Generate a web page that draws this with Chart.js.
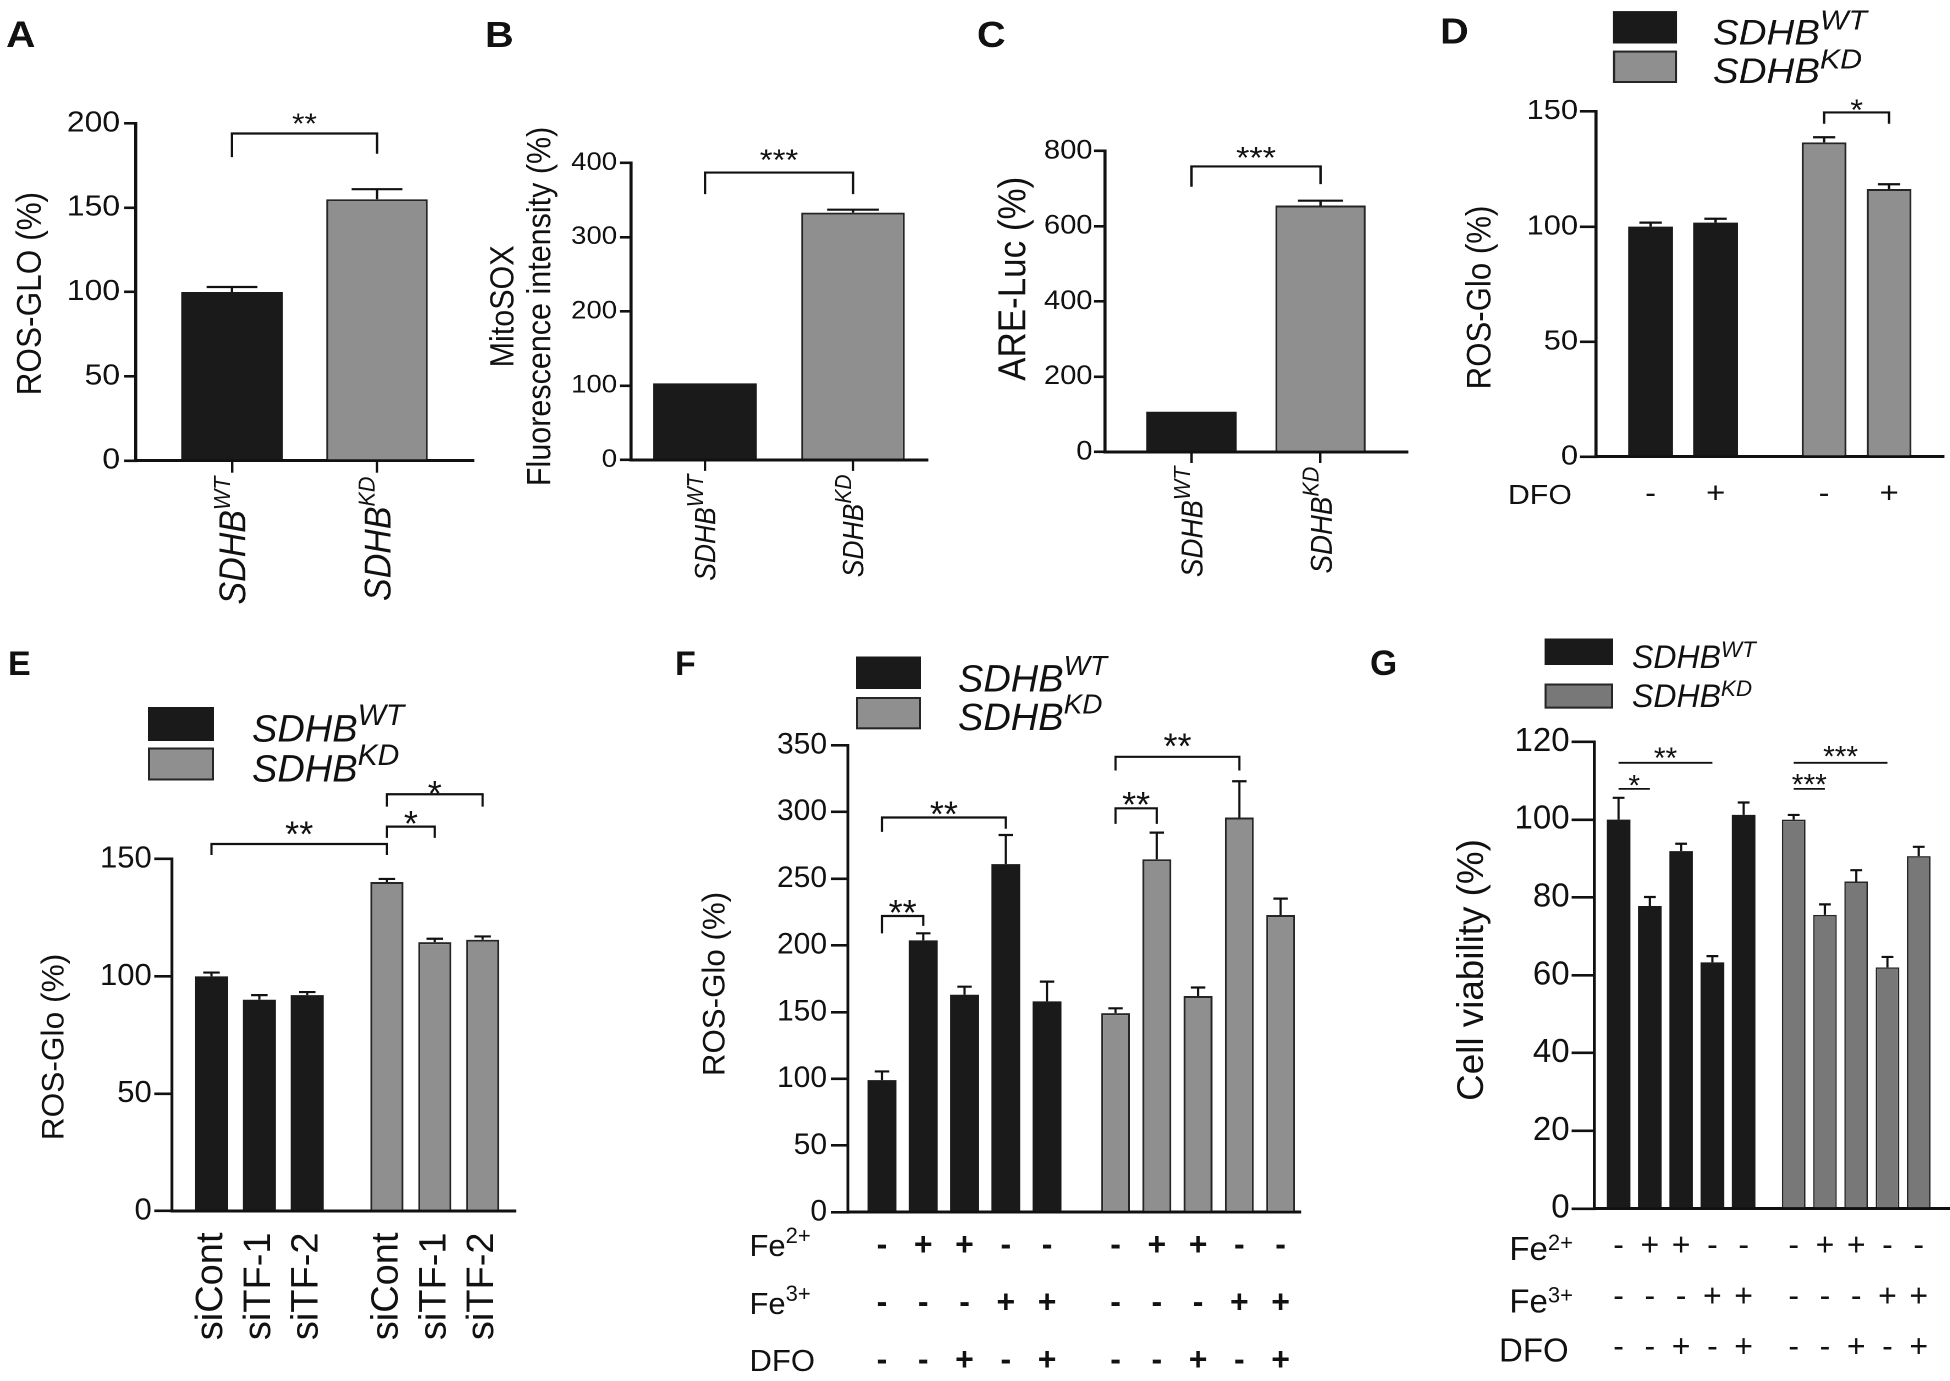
<!DOCTYPE html>
<html>
<head>
<meta charset="utf-8">
<script src="https://cdn.jsdelivr.net/npm/chart.js@4.4.1/dist/chart.umd.min.js"></script>
<style>
  html, body { margin: 0; padding: 0; background: #fff; overflow: hidden; }
  #figure { position: absolute; left: 0; top: 0; width: 1950px; height: 1381px; }
  /* every panel canvas is stretched sideways a little, as in the source figure */
  #figure canvas { position: absolute; transform-origin: 0 0; }
</style>
</head>
<body>
<div id="figure"></div>
<script>
// ---- data ----
const genotypeNames = ['SDHB', 'SDHB'];
const genotypeSups = ['WT', 'KD'];

// A: ROS-GLO
const aTicks = [0, 50, 100, 150, 200];
const aValues = [100, 155];
const aErrors = [3, 6];
// B: MitoSOX
const bTicks = [0, 100, 200, 300, 400];
const bValues = [103, 333];
const bErrors = [0, 4];
// C: ARE-Luc
const cTicks = [0, 200, 400, 600, 800];
const cValues = [107, 655];
const cErrors = [0, 13];
// D: ROS-Glo +/- DFO
const dTicks = [0, 50, 100, 150];
const dDFO = ['-', '+'];
const dWT = [100, 101.7];
const dWTErr = [1.7, 1.7];
const dKD = [136.6, 116.3];
const dKDErr = [2.2, 2.1];
// E: siRNA
const eTicks = [0, 50, 100, 150];
const eLabels = ['siCont', 'siTF-1', 'siTF-2'];
const eWT = [100, 90, 92];
const eWTErr = [1.6, 2, 1.3];
const eKD = [140.2, 114.6, 115.6];
const eKDErr = [1.3, 1.4, 1.4];
// F, G treatments
const fe2 = ['-', '+', '+', '-', '-'];
const fe3 = ['-', '-', '-', '+', '+'];
const dfo = ['-', '-', '+', '-', '+'];
const fTicks = [0, 50, 100, 150, 200, 250, 300, 350];
const fWT = [99, 203.7, 163, 260.9, 158];
const fWTErr = [6.5, 5.3, 6, 21.8, 14.8];
const fKD = [149.2, 264.5, 162, 295.8, 222.7];
const fKDErr = [3.6, 20, 6.4, 27.2, 12.3];
const gTicks = [0, 20, 40, 60, 80, 100, 120];
const gWT = [100, 77.8, 91.9, 63.3, 101.2];
const gWTErr = [5.6, 2.3, 1.9, 1.6, 3.2];
const gKD = [100, 75.5, 84.1, 62, 90.6];
const gKDErr = [1.2, 2.7, 2.9, 2.7, 2.4];

// significance brackets: bar indexes run across both groups, heights in axis units
const aSig = [{from: 0, to: 1, y: 194, legs: [180, 182], text: '**', gap: 17}];
const bSig = [{from: 0, to: 1, y: 387, legs: [358, 358], text: '***', gap: 19.8}];
const cSig = [{from: 0, to: 1, y: 759, legs: [705, 712], text: '***', gap: 16.6}];
const dSig = [{from: 2, to: 3, y: 149.6, legs: [144.7, 144.7], text: '*', gap: 9.9}];
const eSig = [
  {from: 0, to: 3, y: 156.4, legs: [151.7, 151.7], text: '**', gap: 18.3},
  {from: 3, to: 4, y: 163.8, legs: [159, 159], text: '*', gap: 11.7},
  {from: 3, to: 5, y: 177.6, legs: [172.3, 172.3], text: '*', gap: 9}
];
const fSig = [
  {from: 0, to: 1, y: 222, legs: [209, 214.6], text: '**', gap: 11.8},
  {from: 0, to: 3, y: 295.8, legs: [285, 287.4], text: '**', gap: 11.7},
  {from: 5, to: 6, y: 302.7, legs: [291, 291], text: '**', gap: 12.3},
  {from: 5, to: 8, y: 341.3, legs: [331, 331], text: '**', gap: 19.3}
];
const gSig = [
  {from: 0, to: 1, y: 107.9, text: '*', gap: 10.7},
  {from: 0, to: 3, y: 114.6, text: '**', gap: 12},
  {from: 5, to: 6, y: 107.9, text: '***', gap: 12},
  {from: 5, to: 8, y: 114.6, text: '***', gap: 13.7}
];

// ---- styles ----
const FONT = "'Liberation Sans', Arial, Helvetica, sans-serif";
const INK = '#111111';
const BLACK_BAR = '#1a1a1a';
const GREY_BAR = '#8f8f8f';
const GREY_BAR_G = '#787878';

Chart.defaults.font.family = FONT;
Chart.defaults.color = INK;

function twoGroups(wt, wtErr, kd, kdErr, grey, edgeWidth) {
  return [
    {values: wt, errors: wtErr, fill: BLACK_BAR, edge: BLACK_BAR, edgeWidth: 0},
    {values: kd, errors: kdErr, fill: grey || GREY_BAR, edge: '#262626', edgeWidth: edgeWidth || 2}
  ];
}

const panels = [
  {
    stretch: 1.1, letter: ['A', 6, 47, 37], box: [0, 0, 486, 640], plot: [136, 123.4, 473, 460.7],
    xRange: [-0.662, 1.662], groupGap: 1, barRatio: 0.7,
    series: twoGroups([aValues[0]], [aErrors[0]], [aValues[1]], [aErrors[1]]),
    yTicks: aTicks, tickFont: 29, tickLen: 12, tickPad: 4,
    title: {lines: ['ROS-GLO (%)'], x: [31], y: 293.6, size: 31.6},
    xMarks: 12, catLabels: {top: 476.5, size: 34, sup: 21.6},
    sig: aSig, sigSize: 29, sigWidth: 2.2
  },
  {
    stretch: 1.1, letter: ['B', 485, 47, 36], box: [470, 0, 950, 640], plot: [631, 162.9, 927, 459.9],
    xRange: [-0.5, 1.5], groupGap: 1, barRatio: 0.7,
    series: twoGroups([bValues[0]], [bErrors[0]], [bValues[1]], [bErrors[1]]),
    yTicks: bTicks, tickFont: 25, tickLen: 11, tickPad: 3,
    title: {lines: ['MitoSOX', 'Fluorescence intensity (%)'], x: [504, 541], y: 306.4, size: 30.5},
    xMarks: 11, catLabels: {top: 474.5, size: 26.5, sup: 21},
    sig: bSig, sigSize: 30, sigWidth: 2.2
  },
  {
    stretch: 1.1, letter: ['C', 977, 47, 36], box: [950, 0, 1430, 640], plot: [1105, 151, 1407, 452],
    xRange: [-0.67, 1.67], groupGap: 1, barRatio: 0.7,
    series: twoGroups([cValues[0]], [cErrors[0]], [cValues[1]], [cErrors[1]]),
    yTicks: cTicks, tickFont: 26.5, tickLen: 11, tickPad: 1.5,
    title: {lines: ['ARE-Luc (%)'], x: [1015], y: 278.8, size: 35},
    xMarks: 11, catLabels: {top: 466.6, size: 27.7, sup: 21.6},
    sig: cSig, sigSize: 31, sigWidth: 2.2
  },
  {
    stretch: 1.1, letter: ['D', 1440, 43.5, 36], box: [1430, 0, 1950, 640], plot: [1596, 111.5, 1943, 456.7],
    xRange: [-0.84, 4.5], groupGap: 2.67, barRatio: 0.69,
    series: twoGroups(dWT, dWTErr, dKD, dKDErr),
    yTicks: dTicks, tickFont: 28, tickLen: 16, tickPad: 2,
    title: {lines: ['ROS-Glo (%)'], x: [1481], y: 297.5, size: 31.2},
    legend: {x0: 1613, x1: 1677, rects: [[11.1, 43.5], [50.6, 83]], tx: 1713, base: [44.3, 83], size: 35, sup: 27.5, rise: 0.42},
    xLabels: i => dDFO[i % 2], xFont: 30, xWeight: 'normal', xLine: 1.2, xPad: 19.6,
    rows: [{main: 'DFO', x: 1508, y: 504.2, size: 27.5}],
    sig: dSig, sigSize: 30, sigWidth: 2.2
  },
  {
    stretch: 1, letter: ['E', 8, 675, 34], box: [0, 600, 600, 1381], plot: [172, 859, 515, 1211],
    xRange: [-0.825, 6.34], groupGap: 3.664, barRatio: 0.69,
    series: twoGroups(eWT, eWTErr, eKD, eKDErr),
    yTicks: eTicks, tickFont: 31, tickLen: 17.7, tickPad: 2.6,
    title: {lines: ['ROS-Glo (%)'], x: [55], y: 1047, size: 31.7},
    legend: {x0: 148, x1: 214, rects: [[707, 741], [747.5, 780.5]], tx: 252, base: [741.7, 781.7], size: 38, sup: 30, rise: 0.44},
    xLabels: i => eLabels[i % 3], xFont: 38, xWeight: 'normal', xLine: 1.2, xPad: 21.5, xRot: 90,
    sig: eSig, sigSize: 36, sigWidth: 2.2
  },
  {
    stretch: 1, letter: ['F', 675, 675, 34], box: [650, 600, 1320, 1381], plot: [848, 745.2, 1300, 1212.2],
    xRange: [-0.824, 10.13], groupGap: 5.66, barRatio: 0.7,
    series: twoGroups(fWT, fWTErr, fKD, fKDErr),
    yTicks: fTicks, tickFont: 30, tickLen: 17, tickPad: 4,
    title: {lines: ['ROS-Glo (%)'], x: [716], y: 984, size: 31.3},
    legend: {x0: 856, x1: 921, rects: [[656.5, 689], [697, 729.3]], tx: 958, base: [691.7, 730], size: 38, sup: 28, rise: 0.44},
    xLabels: i => [fe2[i % 5], fe3[i % 5], dfo[i % 5]], xFont: 32, xWeight: 'bold', xLine: 1.8, xPad: 5,
    rows: [
      {main: 'Fe', sup: '2+', x: 749.5, y: 1256, size: 31, supSize: 22, rise: 13},
      {main: 'Fe', sup: '3+', x: 749.5, y: 1314, size: 31, supSize: 22, rise: 13},
      {main: 'DFO', x: 749.5, y: 1371, size: 31}
    ],
    sig: fSig, sigSize: 36, sigWidth: 2.2
  },
  {
    stretch: 1, letter: ['G', 1370, 675, 35], box: [1320, 600, 1950, 1381], plot: [1594.4, 741.8, 1950, 1208.6],
    xRange: [-0.774, 10.6], groupGap: 5.6, barRatio: 0.755,
    series: twoGroups(gWT, gWTErr, gKD, gKDErr, GREY_BAR_G, 1.5),
    yTicks: gTicks, tickFont: 33, tickLen: 22.8, tickPad: 2,
    title: {lines: ['Cell viability (%)'], x: [1473], y: 970, size: 36.8},
    legend: {x0: 1544.6, x1: 1613, rects: [[638.5, 665], [683.5, 708.6]], tx: 1632, base: [668, 707], size: 32, sup: 22.5, rise: 0.35, grey: GREY_BAR_G},
    xLabels: i => [fe2[i % 5], fe3[i % 5], dfo[i % 5]], xFont: 32, xWeight: 'normal', xLine: 1.5875, xPad: 12.7,
    rows: [
      {main: 'Fe', sup: '2+', x: 1509.4, y: 1260, size: 33, supSize: 22, rise: 10},
      {main: 'Fe', sup: '3+', x: 1509.4, y: 1312.7, size: 33, supSize: 22, rise: 10},
      {main: 'DFO', x: 1499, y: 1361.7, size: 33}
    ],
    sig: gSig, sigSize: 30, sigWidth: 1.8
  }
];

const fig = document.getElementById('figure');

// italic "SDHB" followed by its raised superscript
function drawGenotype(ctx, x, y, g, size, supSize, rise) {
  ctx.font = `italic ${size}px ${FONT}`;
  ctx.fillText(genotypeNames[g], x, y);
  const w = ctx.measureText(genotypeNames[g]).width;
  ctx.font = `italic ${supSize}px ${FONT}`;
  ctx.fillText(genotypeSups[g], x + w, y - rise);
}

function drawExtras(chart, p, positions) {
  const ctx = chart.ctx;
  const S = p.stretch;
  const xs = chart.scales.x, ys = chart.scales.y;
  const X = x => (x - p.box[0]) / S;
  const Y = y => y - p.box[1];
  ctx.save();
  ctx.fillStyle = INK;
  ctx.strokeStyle = INK;
  ctx.lineCap = 'butt';

  // error bars (upper only)
  ctx.lineWidth = 2.2;
  chart.data.datasets.forEach((ds, di) => {
    chart.getDatasetMeta(di).data.forEach((bar, i) => {
      const e = ds.errors[i];
      if (!e) return;
      const top = ys.getPixelForValue(ds.data[i].y + e);
      const half = bar.width * 0.25;
      ctx.beginPath();
      ctx.moveTo(bar.x, bar.y);
      ctx.lineTo(bar.x, top);
      ctx.moveTo(bar.x - half, top);
      ctx.lineTo(bar.x + half, top);
      ctx.stroke();
    });
  });

  // significance brackets
  ctx.lineWidth = p.sigWidth;
  p.sig.forEach(b => {
    const x1 = xs.getPixelForValue(positions[b.from]);
    const x2 = xs.getPixelForValue(positions[b.to]);
    const yl = ys.getPixelForValue(b.y);
    ctx.beginPath();
    if (b.legs) {
      ctx.moveTo(x1, ys.getPixelForValue(b.legs[0]));
      ctx.lineTo(x1, yl);
      ctx.lineTo(x2, yl);
      ctx.lineTo(x2, ys.getPixelForValue(b.legs[1]));
    } else {
      ctx.moveTo(x1, yl);
      ctx.lineTo(x2, yl);
    }
    ctx.stroke();
    ctx.font = `${p.sigSize}px ${FONT}`;
    ctx.textAlign = 'center';
    ctx.textBaseline = 'alphabetic';
    ctx.fillText(b.text, (x1 + x2) / 2, yl - b.gap + 0.58 * p.sigSize);
  });

  // panel letter
  ctx.font = `bold ${p.letter[3]}px ${FONT}`;
  ctx.textAlign = 'left';
  ctx.textBaseline = 'alphabetic';
  ctx.fillText(p.letter[0], X(p.letter[1]), Y(p.letter[2]));

  // y axis title
  const t = p.title;
  ctx.font = `${t.size}px ${FONT}`;
  ctx.textAlign = 'center';
  ctx.textBaseline = 'middle';
  t.lines.forEach((line, k) => {
    ctx.save();
    ctx.translate(X(t.x[k]), Y(t.y));
    ctx.rotate(-Math.PI / 2);
    ctx.fillText(line, 0, 0);
    ctx.restore();
  });

  // legend
  if (p.legend) {
    const L = p.legend;
    L.rects.forEach((r, g) => {
      const rx = X(L.x0), rw = (L.x1 - L.x0) / S, ry = Y(r[0]), rh = r[1] - r[0];
      ctx.fillStyle = g === 0 ? BLACK_BAR : (L.grey || GREY_BAR);
      ctx.fillRect(rx, ry, rw, rh);
      if (g === 1) {
        ctx.lineWidth = 2;
        ctx.strokeStyle = '#262626';
        ctx.strokeRect(rx + 1, ry + 1, rw - 2, rh - 2);
      }
      ctx.fillStyle = INK;
      ctx.textAlign = 'left';
      ctx.textBaseline = 'alphabetic';
      drawGenotype(ctx, X(L.tx), Y(L.base[g]), g, L.size, L.sup, L.rise * L.size);
    });
  }

  // rotated genotype labels under the x axis (A-C)
  if (p.catLabels) {
    const c = p.catLabels;
    ctx.textAlign = 'left';
    ctx.textBaseline = 'alphabetic';
    positions.forEach((pos, g) => {
      ctx.font = `italic ${c.size}px ${FONT}`;
      const wMain = ctx.measureText(genotypeNames[g]).width;
      ctx.font = `italic ${c.sup}px ${FONT}`;
      const wSup = ctx.measureText(genotypeSups[g]).width;
      ctx.save();
      ctx.translate(xs.getPixelForValue(pos), Y(c.top));
      ctx.rotate(-Math.PI / 2);
      drawGenotype(ctx, -(wMain + wSup), 0.36 * c.size, g, c.size, c.sup, 0.42 * c.size);
      ctx.restore();
    });
  }

  // treatment row names
  (p.rows || []).forEach(r => {
    ctx.textAlign = 'left';
    ctx.textBaseline = 'alphabetic';
    ctx.font = `${r.size}px ${FONT}`;
    ctx.fillText(r.main, X(r.x), Y(r.y));
    if (r.sup) {
      const w = ctx.measureText(r.main).width;
      ctx.font = `${r.supSize}px ${FONT}`;
      ctx.fillText(r.sup, X(r.x) + w, Y(r.y) - r.rise);
    }
  });

  ctx.restore();
}

function buildPanel(p) {
  const S = p.stretch;
  const [bx0, by0, bx1, by1] = p.box;
  const [px0, py0, px1, py1] = p.plot;
  const w = Math.round((bx1 - bx0) / S);
  const h = by1 - by0;
  const canvas = document.createElement('canvas');
  canvas.width = w;
  canvas.height = h;
  canvas.style.left = bx0 + 'px';
  canvas.style.top = by0 + 'px';
  canvas.style.width = w + 'px';
  canvas.style.height = h + 'px';
  canvas.style.transform = `scaleX(${S})`;
  fig.appendChild(canvas);

  const positions = [];
  const datasets = p.series.map((s, g) => {
    const data = s.values.map((v, i) => {
      const x = g * p.groupGap + i;
      positions.push(x);
      return {x: x, y: v};
    });
    return {
      data: data,
      errors: s.errors,
      backgroundColor: s.fill,
      borderColor: s.edge,
      borderWidth: s.edgeWidth,
      grouped: false,
      barPercentage: p.barRatio,
      categoryPercentage: 1
    };
  });

  const yT = p.yTicks;
  new Chart(canvas, {
    type: 'bar',
    data: {datasets: datasets},
    options: {
      responsive: false,
      animation: false,
      devicePixelRatio: 2,
      events: [],
      layout: {padding: {left: 0, top: py0 - by0, right: w - (px1 - bx0) / S, bottom: 0}},
      plugins: {legend: {display: false}, tooltip: {enabled: false}},
      scales: {
        x: {
          type: 'linear',
          offset: false,
          min: p.xRange[0],
          max: p.xRange[1],
          afterBuildTicks: sc => { sc.ticks = positions.map(v => ({value: v})); },
          afterFit: sc => { sc.height = by1 - py1; },
          border: {display: true, color: INK, width: 3},
          grid: {display: !!p.xMarks, offset: false, drawOnChartArea: false, drawTicks: !!p.xMarks,
                 tickLength: p.xMarks || 0, color: INK, lineWidth: 2.2},
          ticks: {
            display: !!p.xLabels,
            autoSkip: false,
            maxRotation: p.xRot || 0,
            minRotation: p.xRot || 0,
            padding: p.xPad || 0,
            color: INK,
            font: {size: p.xFont || 20, weight: p.xWeight || 'normal', lineHeight: p.xLine || 1.2},
            callback: (v, i) => p.xLabels ? p.xLabels(i) : ''
          }
        },
        y: {
          min: yT[0],
          max: yT[yT.length - 1],
          afterBuildTicks: sc => { sc.ticks = yT.map(v => ({value: v})); },
          afterFit: sc => { sc.width = (px0 - bx0) / S; },
          border: {display: true, color: INK, width: 2.8},
          grid: {display: true, drawOnChartArea: false, drawTicks: true,
                 tickLength: p.tickLen / S, color: INK, lineWidth: 2.6},
          ticks: {color: INK, padding: p.tickPad / S, font: {size: p.tickFont}}
        }
      }
    },
    plugins: [{id: 'extras', afterDraw: chart => drawExtras(chart, p, positions)}]
  });
}

panels.forEach(buildPanel);
</script>
</body>
</html>
